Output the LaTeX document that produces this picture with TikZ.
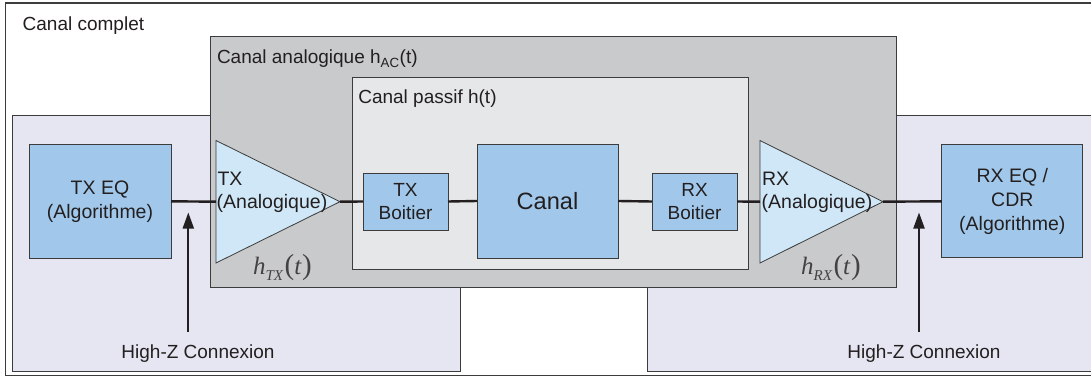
\documentclass[tikz,border=0pt]{standalone}
\usepackage{fontspec}
\setmainfont{Liberation Sans}
\newfontfamily\serifit{Liberation Serif}
\usetikzlibrary{arrows.meta}
\definecolor{lav}{HTML}{E6E6F2}
\definecolor{grayA}{HTML}{C9CACC}
\definecolor{grayB}{HTML}{E6E7E8}
\definecolor{blueA}{HTML}{A1C8EB}
\definecolor{blueB}{HTML}{CFE7F6}
\definecolor{edge}{HTML}{3C3C3C}
\definecolor{ink}{HTML}{231F20}
\tikzset{
  box/.style={draw=edge, line width=1pt, inner sep=0pt, outer sep=0pt, anchor=north west},
  blk/.style={draw=edge, line width=1pt, fill=blueA, inner sep=0pt, outer sep=0pt, align=center, text=ink,
              font=\fontsize{19.5}{24}\selectfont},
  lbl/.style={inner sep=0pt, outer sep=0pt, anchor=base west, text=ink, font=\fontsize{19}{23}\selectfont},
  hlbl/.style={inner sep=0pt, outer sep=0pt, anchor=base, text=ink!85},
  sig/.style={draw=ink, line width=2.4pt},
  hz/.style={draw=ink, line width=2pt, -{Triangle[length=16pt,width=11pt]}},
  amp/.style={draw=edge, line width=0.8pt, fill=blueB},
}
\newcommand{\hfun}[1]{{\fontsize{25}{25}\serifit\itshape h\raisebox{-6pt}{\fontsize{15}{15}\selectfont #1}\kern1.5pt{\fontsize{29}{29}\selectfont\upshape(}t\kern1pt{\fontsize{29}{29}\selectfont\upshape)}}}
\begin{document}
\begin{tikzpicture}[x=1pt,y=-1pt]
\useasboundingbox (0,0) rectangle (1091,377);
\fill[white] (0,0) rectangle (1091,377);
\begin{scope}
\clip (0,0) rectangle (1091,377);
\draw[edge, line width=1.6pt] (5.5,3) rectangle (1110,375.5);
\node[box, fill=lav, minimum width=448pt, minimum height=255pt] (lp) at (12,116) {};
\node[box, fill=lav, minimum width=460pt, minimum height=255pt] (rp) at (647,116) {};
\end{scope}
\node[box, fill=grayA, minimum width=686pt, minimum height=250pt] (ac) at (210,37) {};
\node[box, fill=grayB, minimum width=396pt, minimum height=192pt] (pc) at (352.7,77.3) {};

% labels of containers
\node[lbl] (tcc) at (22.7,31) {Canal complet};
\node[lbl] (tac) at (217,64) {Canal analogique h\textsubscript{AC}(t)};
\node[lbl] (tpc) at (358.3,103) {Canal passif h(t)};

% blocks
\node[blk, minimum width=142pt, minimum height=114pt] (txeq) at (100,201.3) {TX EQ\\(Algorithme)};
\node[blk, minimum width=141pt, minimum height=113pt] (rxeq) at (1012.3,201.3) {RX EQ /\\CDR\\(Algorithme)};
\node[blk, minimum width=141pt, minimum height=114pt, font=\fontsize{23.6}{28}\selectfont] (canal) at (547.5,201) {Canal};
\node[blk, minimum width=85pt, minimum height=57pt, font=\fontsize{19}{22.3}\selectfont] (txb) at (405.5,201.5) {TX\\Boitier};
\node[blk, minimum width=85pt, minimum height=57pt, font=\fontsize{19}{22.3}\selectfont] (rxb) at (694.5,201.5) {RX\\Boitier};

% amplifiers
\coordinate (txin) at (216,201.7);
\coordinate (txout) at (340,201.7);
\coordinate (rxin) at (760,201.7);
\coordinate (rxout) at (883,201.7);
\draw[amp] (216,140.5) -- (txout) -- (216,263) -- cycle;
\draw[amp] (760,140.5) -- (rxout) -- (760,263) -- cycle;
\node[lbl, font=\fontsize{19.5}{22}\selectfont] (txa1) at (217.5,185.7) {TX};
\node[lbl, font=\fontsize{19.5}{22}\selectfont] (txa2) at (216.7,208) {(Analogique)};
\node[lbl, font=\fontsize{19.5}{22}\selectfont] (rxa1) at (762,185.7) {RX};
\node[lbl, font=\fontsize{19.5}{22}\selectfont] (rxa2) at (761.7,208) {(Analogique)};
\node[hlbl] (htx) at (282.5,274) {\hfun{TX}};
\node[hlbl] (hrx) at (831,274) {\hfun{RX}};

% signal path
\draw[sig] (txeq.east) -- (txin);
\draw[sig] (txout) -- (txb.west);
\draw[sig] (txb.east) -- (canal.west);
\draw[sig] (canal.east) -- (rxb.west);
\draw[sig] (rxb.east) -- (rxin);
\draw[sig] (rxout) -- (rxeq.west);

% high-Z connections
\node[lbl, anchor=base] (hzl) at (198,358) {High-Z Connexion};
\node[lbl, anchor=base] (hzr) at (924,358) {High-Z Connexion};
\coordinate (hzlb) at (188.3,331.7);
\coordinate (hzlt) at (188.3,212.5);
\coordinate (hzrb) at (919,331.7);
\coordinate (hzrt) at (919,212.5);
\draw[hz] (hzlb) -- (hzlt);
\draw[hz] (hzrb) -- (hzrt);
\end{tikzpicture}
\end{document}
